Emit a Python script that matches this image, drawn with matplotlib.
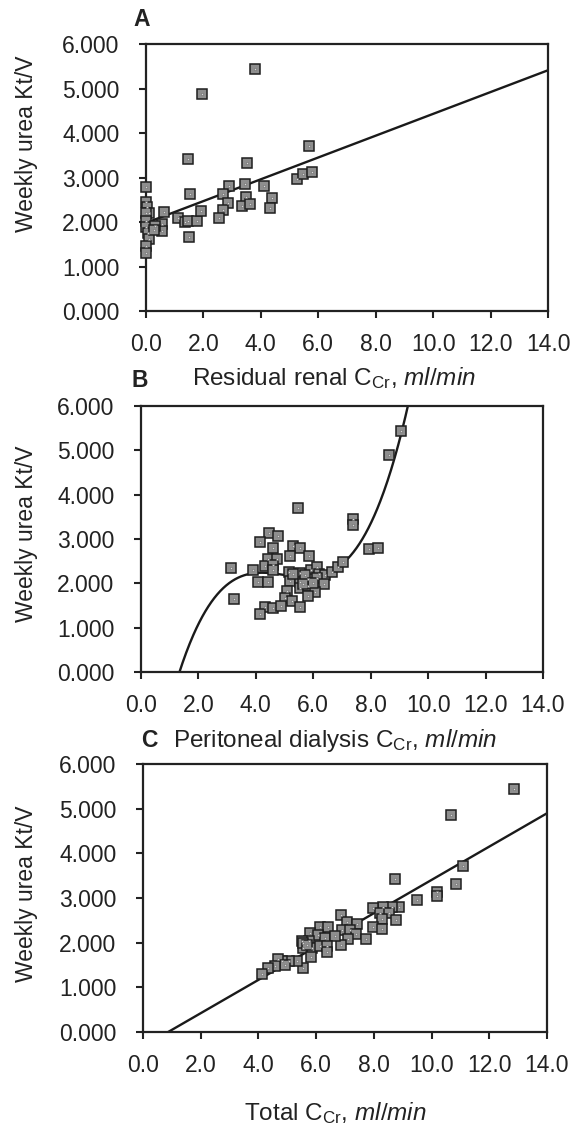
import numpy as np
import matplotlib
matplotlib.use("Agg")
import matplotlib.pyplot as plt

plt.rcParams['font.family'] = ['Liberation Sans', 'DejaVu Sans']
plt.rcParams['mathtext.fontset'] = 'custom'
plt.rcParams['mathtext.rm'] = 'Liberation Sans'
plt.rcParams['mathtext.it'] = 'Liberation Sans:italic'
plt.rcParams['mathtext.sf'] = 'Liberation Sans'

# ---------------- data ----------------
a_x = [0.0, 0.0, 0.02, 0.12, 0.0, 0.0, 0.0, 0.08, 0.12, 0.0, 0.0, 0.63, 0.55, 0.55, 0.31, 0.29,
       1.13, 1.36, 1.48, 1.79, 1.92, 1.51, 1.53, 1.47, 1.94, 3.79,
       2.90, 3.45, 4.11, 3.48, 4.38, 3.33, 3.62, 4.32, 2.67, 2.87, 2.69, 2.55, 3.53,
       5.25, 5.48, 5.77, 5.67]
a_y = [2.79, 2.46, 2.34, 2.21, 2.20, 2.02, 1.89, 1.75, 1.61, 1.46, 1.30, 2.23, 1.96, 1.80, 1.92, 1.82,
       2.10, 2.01, 2.02, 2.02, 2.25, 1.66, 2.62, 3.42, 4.88, 5.44,
       2.81, 2.85, 2.81, 2.57, 2.55, 2.36, 2.40, 2.32, 2.64, 2.43, 2.27, 2.10, 3.32,
       2.96, 3.08, 3.13, 3.70]

b_x = [9.04, 8.63, 5.48, 7.39, 7.39, 7.95, 8.27,
       4.45, 4.78, 4.14, 4.60, 5.31, 5.55, 5.20, 5.85,
       4.42, 4.74, 4.32, 4.60, 4.58, 4.08, 4.44, 3.14, 3.24, 3.89,
       5.17, 5.54, 5.93, 6.12, 6.21, 6.41, 6.64, 6.86, 7.05,
       5.19, 5.54, 5.83, 6.12, 6.37, 5.54, 5.83, 6.07, 5.80,
       5.07, 5.02, 5.25, 5.54, 4.32, 4.59, 4.87, 4.14,
       5.30, 5.70, 6.00, 5.65]
b_y = [5.44, 4.89, 3.69, 3.46, 3.32, 2.78, 2.80,
       3.14, 3.07, 2.94, 2.79, 2.84, 2.80, 2.62, 2.62,
       2.54, 2.54, 2.40, 2.42, 2.29, 2.02, 2.02, 2.34, 1.64, 2.30,
       2.26, 2.23, 2.30, 2.37, 2.22, 2.19, 2.25, 2.36, 2.47,
       2.05, 2.04, 2.09, 2.12, 1.99, 1.89, 1.94, 1.81, 1.71,
       1.83, 1.68, 1.61, 1.46, 1.47, 1.44, 1.50, 1.30,
       2.20, 2.18, 2.00, 1.98]

c_x = [12.87, 10.67, 11.08, 10.84, 10.18, 10.18, 9.49, 8.74, 8.87, 8.62, 8.33, 7.98, 8.21, 8.53,
       8.28, 8.76, 7.98, 8.28, 6.85, 7.06, 7.40, 6.88, 7.17, 7.38, 7.09, 7.73, 6.85, 6.13, 6.42,
       5.79, 6.08, 6.31, 6.65, 5.76, 5.50, 5.55, 5.84, 6.13, 6.36, 6.36, 5.82, 5.55, 5.32, 5.07,
       4.80, 4.69, 4.92, 4.57, 4.34, 4.14, 5.55, 5.67]
c_y = [5.44, 4.86, 3.72, 3.32, 3.14, 3.05, 2.96, 3.42, 2.79, 2.79, 2.79, 2.77, 2.66, 2.66,
       2.53, 2.50, 2.35, 2.30, 2.62, 2.47, 2.42, 2.29, 2.29, 2.19, 2.08, 2.09, 1.94, 2.34, 2.34,
       2.21, 2.18, 2.10, 2.15, 2.03, 2.03, 1.88, 1.88, 1.92, 1.93, 1.78, 1.69, 1.43, 1.58, 1.58,
       1.58, 1.63, 1.51, 1.47, 1.43, 1.30, 2.00, 1.95]

# fitted curves
fit_a = [0.245, 1.98]            # slope, intercept
fit_b_coef = [0.05256, 0.0031, -0.0948, 2.1884]   # cubic in (x - center)
fit_b_center = 5.0
fit_c = [0.373, -0.325]          # slope, intercept

x_ticks = [0, 2, 4, 6, 8, 10, 12, 14]
y_ticks = [0, 1, 2, 3, 4, 5, 6]
x_ticklabels = ["0.0", "2.0", "4.0", "6.0", "8.0", "10.0", "12.0", "14.0"]
y_ticklabels = ["0.000", "1.000", "2.000", "3.000", "4.000", "5.000", "6.000"]
ylabel = "Weekly urea Kt/V"
xlabels = [r"Residual renal C$_{\mathrm{Cr}}$, $\mathit{ml/min}$",
           r"Peritoneal dialysis C$_{\mathrm{Cr}}$, $\mathit{ml/min}$",
           r"Total C$_{\mathrm{Cr}}$, $\mathit{ml/min}$"]
letters = ["A", "B", "C"]

# ---------------- figure ----------------
W, H = 571, 1128
fig = plt.figure(figsize=(W / 100, H / 100), dpi=100)
TXT = '#222222'

def px_axes(l, t, r, b):
    return fig.add_axes([l / W, 1 - b / H, (r - l) / W, (b - t) / H])

axA = px_axes(146, 44, 548, 311)
axB = px_axes(141, 406, 543, 672)
axC = px_axes(143, 764, 547, 1032)
axes = [axA, axB, axC]

def style(ax):
    ax.set_xlim(0, 14)
    ax.set_ylim(0, 6)
    ax.set_xticks(x_ticks)
    ax.set_xticklabels(x_ticklabels)
    ax.set_yticks(y_ticks)
    ax.set_yticklabels(y_ticklabels)
    ax.tick_params(direction='out', length=5, width=1.5, labelsize=16.5, color=TXT,
                   labelcolor=TXT)
    ax.tick_params(axis='y', pad=14)
    ax.tick_params(axis='x', pad=11)
    for s in ax.spines.values():
        s.set_linewidth(1.6)
        s.set_color(TXT)

def scatter(ax, x, y):
    ax.plot(x, y, linestyle='none', marker='s', markersize=6.6, markerfacecolor='#8e8e8e',
            markeredgecolor='#1e1e1e', markeredgewidth=1.1, zorder=3, clip_on=False)
    ax.plot(x, y, linestyle='none', marker='s', markersize=2.0, markerfacecolor='#d8d8d8',
            markeredgecolor='#6a6a6a', markeredgewidth=0.4, zorder=4, clip_on=False)

for ax in axes:
    style(ax)

scatter(axA, a_x, a_y)
xa = np.array([0.1, 14.0])
axA.plot(xa, fit_a[0] * xa + fit_a[1], color='#1a1a1a', lw=1.7, zorder=2)

scatter(axB, b_x, b_y)
xb = np.linspace(1.2, 9.5, 400)
axB.plot(xb, np.polyval(fit_b_coef, xb - fit_b_center), color='#1a1a1a', lw=1.7, zorder=2)

scatter(axC, c_x, c_y)
xc = np.array([0.0, 14.0])
axC.plot(xc, fit_c[0] * xc + fit_c[1], color='#1a1a1a', lw=1.7, zorder=2)

# y labels
for yc in (144, 534, 894):
    fig.text(27 / W, 1 - yc / H, ylabel, fontsize=16.5, rotation=90, ha='center', va='center',
             color=TXT)

# x labels (baseline positions)
for xcen, yb, lab in ((334, 385, xlabels[0]), (335, 747, xlabels[1]), (335, 1120, xlabels[2])):
    fig.text(xcen / W, 1 - yb / H, lab, fontsize=17.5, ha='center', va='baseline', color=TXT)

# panel letters
for xcen, yb, lab in ((142, 26, letters[0]), (140, 387, letters[1]), (149, 747, letters[2])):
    fig.text(xcen / W, 1 - yb / H, lab, fontsize=16.5, fontweight='bold', ha='center',
             va='baseline', color=TXT)

fig.savefig("out.png", dpi=100, facecolor='white')
